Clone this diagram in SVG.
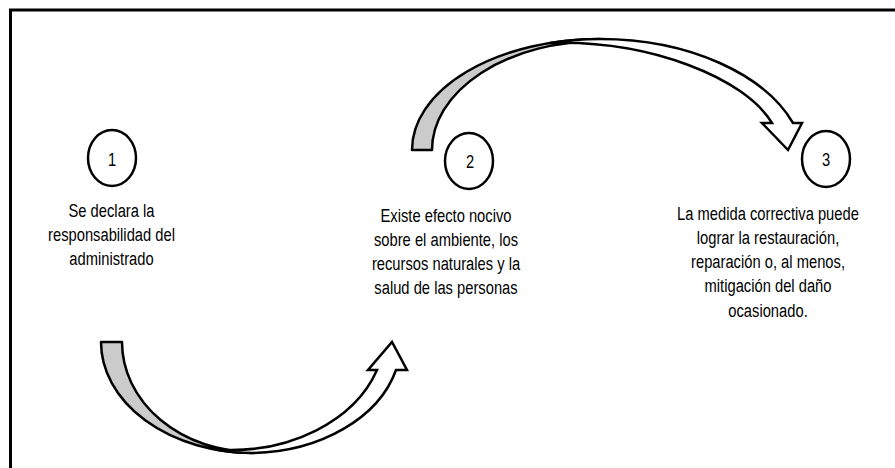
<svg xmlns="http://www.w3.org/2000/svg" width="895" height="468" viewBox="0 0 895 468">
<style>
.frame{fill:none;stroke:#000;stroke-width:3}
.node{fill:#fff;stroke:#000;stroke-width:2.5}
.t{font-family:"Liberation Sans",Arial,sans-serif;font-size:17px;fill:#000;text-anchor:middle}
.back{fill:#cbcbcb;stroke:#000;stroke-width:2.5;stroke-linejoin:round}
.front{fill:#fff;stroke:#000;stroke-width:2.5;stroke-linejoin:miter}
</style>
<rect width="895" height="468" fill="#fff"/>
<path class="frame" d="M10.5,468 L10.5,10 L895,10"/>
<g id="connectors">
<g id="arrow-1-2">
<path class="back" d="M101,342 L122,342 A131,110 0 0 0 253,452 L253,453 A152,111 0 0 1 101,342 Z"/>
<path class="front" d="M253,453 A152,111 0 0 0 396,370 L407,370 L392,342 L368,370 L377,370 C355,420 290,455 215,449.5 A152,111 0 0 0 253,453 Z"/>
</g>
<g id="arrow-2-3">
<path class="back" d="M412,150 L432,150 A168,109 0 0 1 600,41 L600,39 A188,111 0 0 0 412,150 Z"/>
<path class="front" d="M600,39 C690,39 765,75 793,123 L802,123 L788,150 L762,123 L772,123 C745,78 650,40 550,43 A188,111 0 0 1 600,39 Z"/>
</g>
</g>
<g id="node1">
<ellipse class="node" cx="112" cy="158" rx="24" ry="28"/>
<text class="t" transform="translate(112,166) scale(0.867,1.1)">1</text>
<text class="t" transform="translate(111.5,217) scale(0.867,1.1)">Se declara la</text>
<text class="t" transform="translate(111.5,241) scale(0.867,1.1)">responsabilidad del</text>
<text class="t" transform="translate(111.5,265) scale(0.867,1.1)">administrado</text>
</g>
<g id="node2">
<ellipse class="node" cx="469" cy="161" rx="24" ry="28"/>
<text class="t" transform="translate(470,168) scale(0.867,1.1)">2</text>
<text class="t" transform="translate(446,222) scale(0.867,1.1)">Existe efecto nocivo</text>
<text class="t" transform="translate(446,246) scale(0.867,1.1)">sobre el ambiente, los</text>
<text class="t" transform="translate(446,270) scale(0.867,1.1)">recursos naturales y la</text>
<text class="t" transform="translate(446,294) scale(0.867,1.1)">salud de las personas</text>
</g>
<g id="node3">
<ellipse class="node" cx="826" cy="159" rx="24" ry="28"/>
<text class="t" transform="translate(826,166) scale(0.867,1.1)">3</text>
<text class="t" transform="translate(768,220) scale(0.867,1.1)">La medida correctiva puede</text>
<text class="t" transform="translate(768,244) scale(0.867,1.1)">lograr la restauración,</text>
<text class="t" transform="translate(768,268) scale(0.867,1.1)">reparación o, al menos,</text>
<text class="t" transform="translate(768,292) scale(0.867,1.1)">mitigación del daño</text>
<text class="t" transform="translate(768,317) scale(0.867,1.1)">ocasionado.</text>
</g>
</svg>
